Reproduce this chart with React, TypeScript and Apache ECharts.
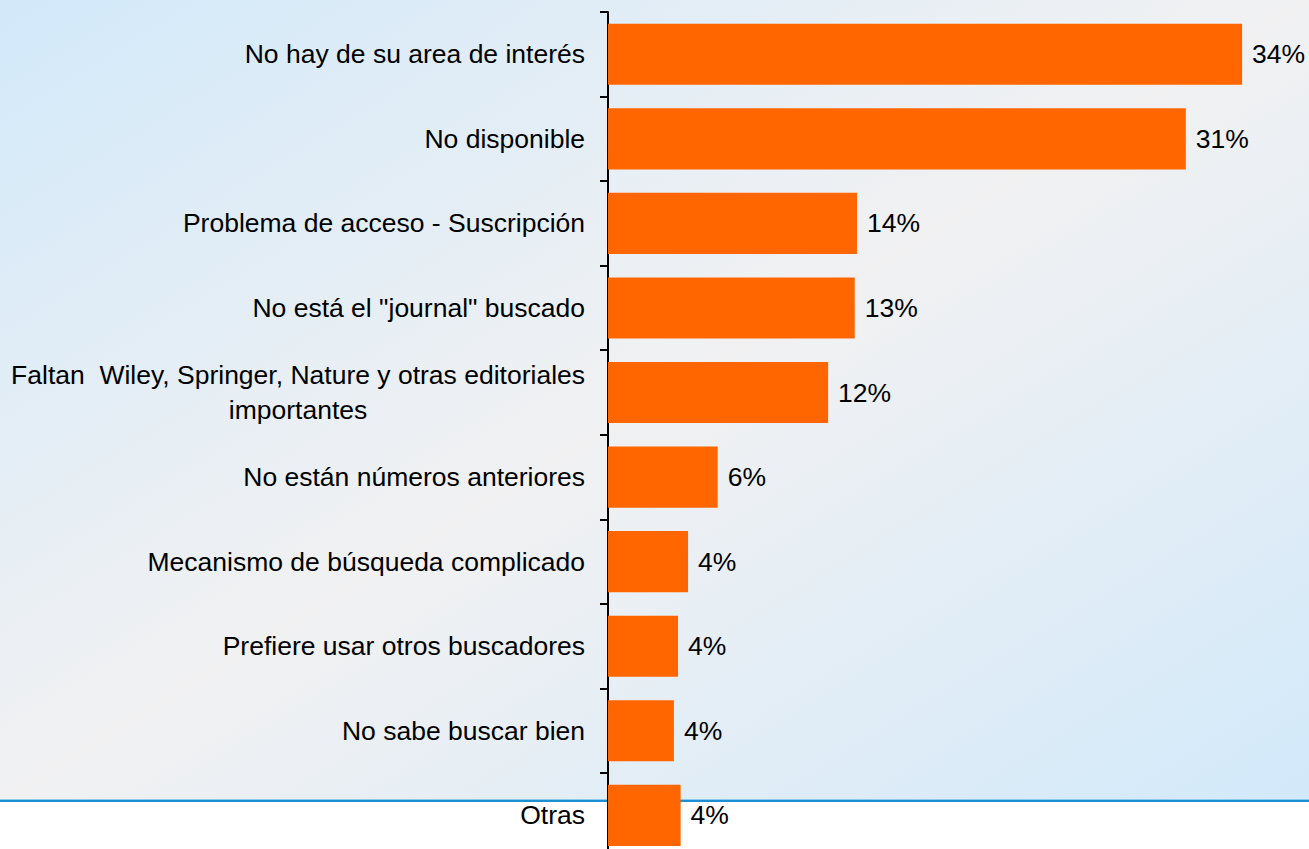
import React, { useEffect, useRef } from "react";
import * as echarts from "echarts";

const categories = [
  "No hay de su area de interés",
  "No disponible",
  "Problema de acceso - Suscripción",
  'No está el "journal" buscado',
  "Faltan  Wiley, Springer, Nature y otras editoriales\nimportantes",
  "No están números anteriores",
  "Mecanismo de búsqueda complicado",
  "Prefiere usar otros buscadores",
  "No sabe buscar bien",
  "Otras",
];

const values = [34.05, 31.03, 13.37, 13.25, 11.82, 5.89, 4.3, 3.76, 3.54, 3.9];
const valueLabels = ["34%", "31%", "14%", "13%", "12%", "6%", "4%", "4%", "4%", "4%"];

const FONT = "'Liberation Sans', Arial, sans-serif";

export default function App() {
  const ref = useRef<HTMLDivElement>(null);

  useEffect(() => {
    if (!ref.current) return;
    document.body.style.overflow = "hidden";
    const chart = echarts.init(ref.current, undefined, { renderer: "svg" });
    chart.setOption({
      animation: false,
      backgroundColor: "#ffffff",
      graphic: [
        {
          type: "rect",
          z: -10,
          silent: true,
          shape: { x: 0, y: 0, width: 1309, height: 800 },
          style: {
            fill: new echarts.graphic.LinearGradient(0, 0, 1, 1, [
              { offset: 0, color: "#d2e9fa" },
              { offset: 0.5, color: "#f1f1f2" },
              { offset: 1, color: "#d2e9fa" },
            ]),
          },
        },
        {
          type: "line",
          z: -9,
          silent: true,
          shape: { x1: 0, y1: 799.5, x2: 1309, y2: 799.5 },
          style: { stroke: "#8ccbec", lineWidth: 1 },
        },
        {
          type: "line",
          z: -9,
          silent: true,
          shape: { x1: 0, y1: 801, x2: 1309, y2: 801 },
          style: { stroke: "#1b8fd0", lineWidth: 2 },
        },
      ],
      grid: {
        left: 608,
        top: 12,
        width: 689,
        height: 845.6,
        containLabel: false,
      },
      xAxis: {
        type: "value",
        min: 0,
        max: 37,
        show: false,
        splitLine: { show: false },
      },
      yAxis: {
        type: "category",
        data: categories,
        inverse: true,
        axisLine: { show: true, lineStyle: { color: "#000000", width: 2 } },
        axisTick: {
          show: true,
          length: 8,
          alignWithLabel: false,
          lineStyle: { color: "#000000", width: 2 },
        },
        axisLabel: {
          margin: 23,
          color: "#000000",
          fontSize: 26.5,
          fontFamily: FONT,
          lineHeight: 35,
          formatter: (v: string) =>
            v
              .split("\n")
              .map((l) => "{c|" + l + "}")
              .join("\n"),
          rich: {
            c: {
              align: "center",
              color: "#000000",
              fontSize: 26.5,
              fontFamily: FONT,
              lineHeight: 35,
            },
          },
        },
      },
      series: [
        {
          type: "bar",
          data: values,
          barCategoryGap: "27.7%",
          itemStyle: { color: "#ff6600" },
          label: {
            show: true,
            position: "right",
            distance: 10,
            color: "#000000",
            fontSize: 26.5,
            fontFamily: FONT,
            formatter: (p: any) => valueLabels[p.dataIndex],
          },
        },
      ],
    });
    return () => chart.dispose();
  }, []);

  return (
    <div
      ref={ref}
      style={{ position: "fixed", left: 0, top: 0, width: 1309, height: 870 }}
    />
  );
}
